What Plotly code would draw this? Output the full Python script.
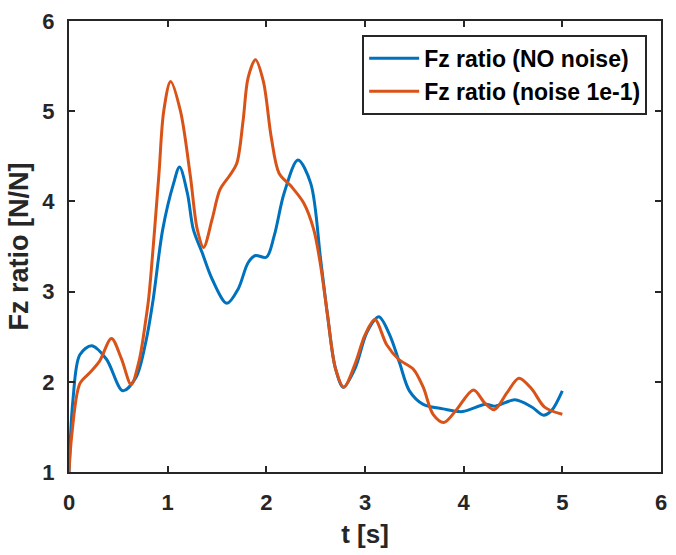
import plotly.graph_objects as go

# Fz ratio time histories, without noise and with 1e-1 noise
t_clean = [0.0, 0.04, 0.11, 0.23, 0.38, 0.545, 0.68, 0.78, 0.85, 0.95, 1.06, 1.12,
           1.20, 1.26, 1.35, 1.45, 1.60, 1.715, 1.815, 1.89, 2.0, 2.08, 2.18, 2.32,
           2.45, 2.55, 2.62, 2.70, 2.78, 2.90, 3.02, 3.14, 3.25, 3.35, 3.45, 3.59,
           3.79, 3.99, 4.22, 4.32, 4.52, 4.69, 4.81, 4.89, 5.0]
fz_clean = [1.0, 1.80, 2.30, 2.40, 2.25, 1.90, 2.05, 2.45, 2.89, 3.69, 4.20, 4.38,
            4.09, 3.69, 3.43, 3.14, 2.87, 3.03, 3.32, 3.40, 3.38, 3.62, 4.09, 4.46,
            4.20, 3.36, 2.74, 2.15, 1.94, 2.15, 2.55, 2.72, 2.52, 2.21, 1.90, 1.75,
            1.70, 1.67, 1.75, 1.73, 1.80, 1.72, 1.63, 1.68, 1.90]

t_noise = [0.0, 0.03, 0.11, 0.21, 0.31, 0.43, 0.53, 0.63, 0.71, 0.78, 0.81, 0.91,
           0.96, 1.03, 1.13, 1.23, 1.30, 1.364, 1.45, 1.53, 1.63, 1.70, 1.765, 1.815,
           1.89, 1.97, 2.05, 2.13, 2.25, 2.38, 2.48, 2.55, 2.62, 2.70, 2.785, 2.90,
           3.00, 3.10, 3.22, 3.34, 3.49, 3.59, 3.69, 3.80, 3.92, 4.10, 4.21, 4.31,
           4.44, 4.56, 4.69, 4.82, 5.0]
fz_noise = [1.0, 1.43, 1.98, 2.10, 2.23, 2.48, 2.26, 1.97, 2.23, 2.70, 2.95, 4.28,
            5.0, 5.33, 5.0, 4.28, 3.69, 3.49, 3.80, 4.13, 4.29, 4.42, 4.90, 5.37,
            5.57, 5.33, 4.71, 4.31, 4.17, 3.98, 3.69, 3.29, 2.74, 2.15, 1.94, 2.20,
            2.52, 2.69, 2.41, 2.25, 2.14, 1.94, 1.64, 1.55, 1.68, 1.91, 1.77, 1.69,
            1.88, 2.04, 1.92, 1.72, 1.64]

x_ticks = [0, 1, 2, 3, 4, 5, 6]
y_ticks = [1, 2, 3, 4, 5, 6]

BLUE = "#0072BD"
ORANGE = "#D95319"
AXIS = "#262626"
FONT = "Liberation Sans, Arial, Helvetica, sans-serif"

fig = go.Figure()
fig.add_trace(go.Scatter(x=t_clean, y=fz_clean, mode="lines",
                         name="Fz ratio (NO noise)",
                         line=dict(color=BLUE, width=3, shape="spline", smoothing=0.9)))
fig.add_trace(go.Scatter(x=t_noise, y=fz_noise, mode="lines",
                         name="Fz ratio (noise 1e-1)",
                         line=dict(color=ORANGE, width=3, shape="spline", smoothing=0.9)))

axis_common = dict(
    showline=True, linecolor=AXIS, linewidth=2, mirror="ticks",
    ticks="inside", ticklen=6, tickwidth=2, tickcolor=AXIS,
    showgrid=False, zeroline=False,
    tickfont=dict(family=FONT, size=22, color=AXIS, weight="bold"),
)

fig.update_xaxes(range=[0, 6], tickvals=x_ticks, ticklabelstandoff=10,
                 title=dict(text="t [s]", standoff=10,
                            font=dict(family=FONT, size=26, color=AXIS, weight="bold")),
                 **axis_common)
fig.update_yaxes(range=[1, 6], tickvals=y_ticks, ticklabelstandoff=8,
                 title=dict(text="Fz ratio [N/N]", standoff=6,
                            font=dict(family=FONT, size=27, color=AXIS, weight="bold")),
                 **axis_common)

fig.update_layout(
    width=676, height=555,
    margin=dict(l=69, r=9, t=16, b=83),
    paper_bgcolor="white", plot_bgcolor="white",
    showlegend=True,
    legend=dict(x=0.9766, y=0.9693, xanchor="right", yanchor="top",
                bgcolor="white", bordercolor=AXIS, borderwidth=2,
                font=dict(family=FONT, size=23, color="black", weight="bold"),
                itemwidth=50, tracegroupgap=0),
)

fig.write_html("out.html")
